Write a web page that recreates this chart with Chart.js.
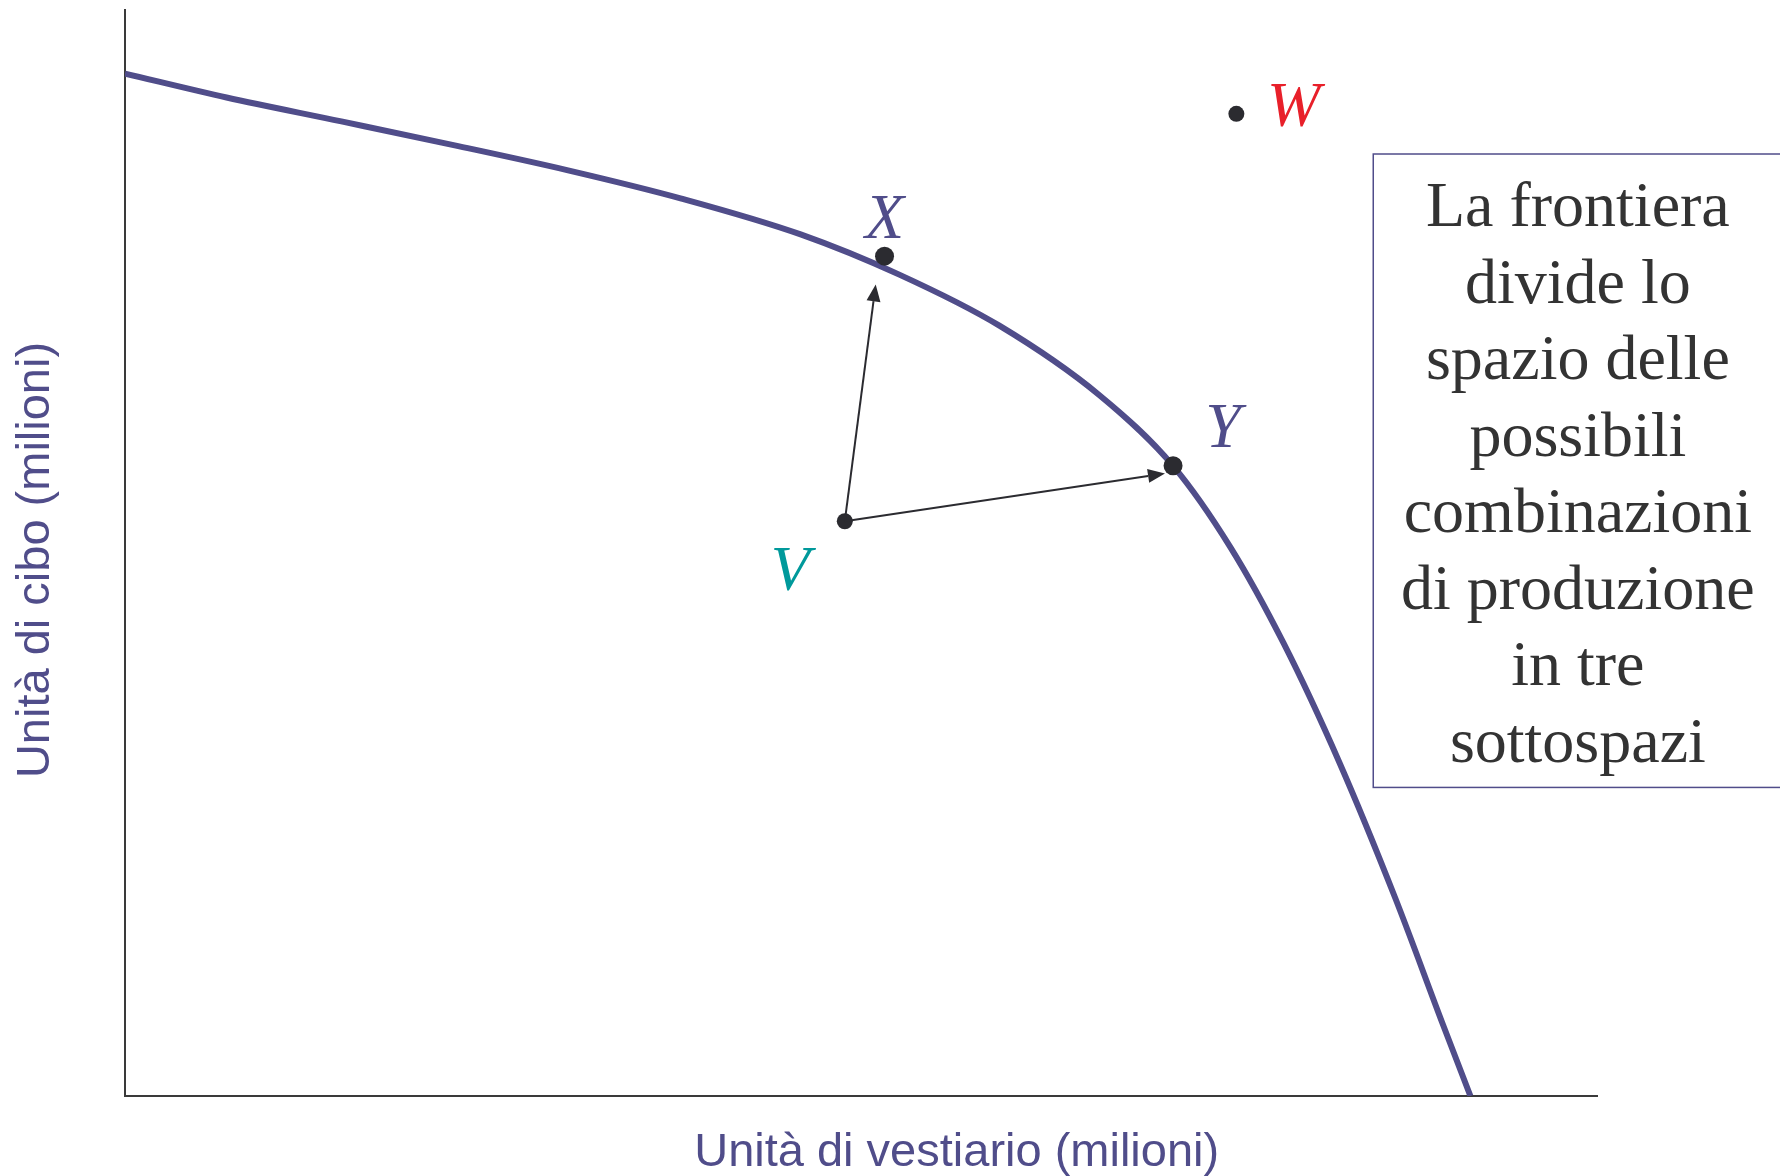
<!DOCTYPE html>
<html lang="it">
<head>
<meta charset="UTF-8">
<title>Frontiera delle possibilità di produzione</title>
<script src="https://cdn.jsdelivr.net/npm/chart.js"></script>
<style>
  html, body { margin: 0; padding: 0; background: #fff; }
  .wrap { width: 1780px; height: 1176px; position: relative; }
</style>
</head>
<body>
<div class="wrap"><canvas id="ppf"></canvas></div>
<script>
// frontier curve (units of clothing vs food, arbitrary 0-100 scale)
const frontierX = [0, 6.9, 14.7, 22.4, 30.1, 37.8, 45.9, 52.6, 59.4, 66.2, 71.2, 75.1, 78.7, 82.5, 86.3, 89.5, 91.4];
const frontierY = [94.1, 91.9, 89.7, 87.5, 85.2, 82.6, 79.3, 75.6, 70.9, 64.5, 58.0, 50.5, 41.7, 30.7, 18.2, 6.7, 0];

// named points
const pointNames = ['X', 'Y', 'V', 'W'];
const pointX = [51.6, 71.2, 48.9, 75.5];
const pointY = [77.3, 58.0, 52.9, 90.4];
const labelX = [51.6, 74.6, 45.2, 79.4];
const labelY = [80.5, 61.3, 48.1, 90.8];

// arrows start at V and end near X and Y
const arrowTipX = [51.0, 70.65];
const arrowTipY = [74.7, 57.3];

// text box
const boxLines = ['La frontiera', 'divide lo', 'spazio delle', 'possibili',
  'combinazioni', 'di produzione', 'in tre', 'sottospazi'];
const boxLeft = 84.8, boxTop = 86.7, boxBottom = 28.4;
const boxTextX = 98.7, boxFirstLineY = 81.6;

const xTitle = 'Unità di vestiario (milioni)';
const yTitle = 'Unità di cibo (milioni)';
const xTitleAt = 56.5;

const PURPLE = '#504d8a';
const labelColors = [PURPLE, PURPLE, '#00999b', '#e8202a'];

const extras = {
  id: 'extras',
  afterDatasetsDraw(chart) {
    const ctx = chart.ctx;
    const xs = chart.scales.x, ys = chart.scales.y;
    const px = v => xs.getPixelForValue(v);
    const py = v => ys.getPixelForValue(v);
    ctx.save();

    // arrows from V
    const vx = px(pointX[2]), vy = py(pointY[2]);
    ctx.strokeStyle = '#2b2b30';
    ctx.fillStyle = '#2b2b30';
    ctx.lineWidth = 2;
    for (let i = 0; i < arrowTipX.length; i++) {
      const tx = px(arrowTipX[i]), ty = py(arrowTipY[i]);
      const a = Math.atan2(ty - vy, tx - vx);
      const hl = 17, hw = 7;
      const bx = tx - hl * Math.cos(a), by = ty - hl * Math.sin(a);
      ctx.beginPath();
      ctx.moveTo(vx, vy);
      ctx.lineTo(bx, by);
      ctx.stroke();
      ctx.beginPath();
      ctx.moveTo(tx, ty);
      ctx.lineTo(bx + hw * Math.sin(a), by - hw * Math.cos(a));
      ctx.lineTo(bx - hw * Math.sin(a), by + hw * Math.cos(a));
      ctx.closePath();
      ctx.fill();
    }

    // point labels
    ctx.font = 'italic 64px "Liberation Serif", "Times New Roman", serif';
    ctx.textAlign = 'center';
    ctx.textBaseline = 'middle';
    pointNames.forEach((n, i) => {
      ctx.fillStyle = labelColors[i];
      ctx.fillText(n, px(labelX[i]), py(labelY[i]));
    });

    // text box
    const bl = px(boxLeft), bt = py(boxTop), bb = py(boxBottom);
    ctx.strokeStyle = PURPLE;
    ctx.lineWidth = 1.5;
    ctx.strokeRect(bl, bt, chart.width - bl + 10, bb - bt);
    ctx.fillStyle = '#333333';
    ctx.font = '64px "Liberation Serif", "Times New Roman", serif';
    const lh = 76.5;
    boxLines.forEach((t, i) => {
      ctx.fillText(t, px(boxTextX), py(boxFirstLineY) + i * lh);
    });

    // axis titles
    ctx.fillStyle = PURPLE;
    ctx.font = '47px "Liberation Sans", Arial, sans-serif';
    ctx.fillText(xTitle, px(xTitleAt), ys.bottom + 57);
    ctx.translate(36, 560);
    ctx.rotate(-Math.PI / 2);
    ctx.fillText(yTitle, 0, 0);
    ctx.restore();
  }
};

new Chart(document.getElementById('ppf'), {
  type: 'scatter',
  data: {
    datasets: [
      {
        label: 'punti',
        data: pointX.map((x, i) => ({ x, y: pointY[i] })),
        backgroundColor: '#2b2b30',
        borderWidth: 0,
        pointRadius: [9.5, 9.5, 8, 8],
        order: 0
      },
      {
        label: 'frontiera',
        data: frontierX.map((x, i) => ({ x, y: frontierY[i] })),
        showLine: true,
        borderColor: PURPLE,
        borderWidth: 6,
        pointRadius: 0,
        cubicInterpolationMode: 'monotone',
        order: 1
      }
    ]
  },
  options: {
    responsive: true,
    maintainAspectRatio: false,
    animation: false,
    layout: { padding: { left: 117, right: 183, top: 4, bottom: 72 } },
    plugins: { legend: { display: false }, tooltip: { enabled: false } },
    scales: {
      x: {
        min: 0, max: 100,
        ticks: { display: false },
        grid: { display: false },
        border: { display: true, color: '#3a3a3a', width: 2 }
      },
      y: {
        min: 0, max: 100,
        ticks: { display: false },
        grid: { display: false },
        border: { display: true, color: '#3a3a3a', width: 2 }
      }
    }
  },
  plugins: [extras]
});
</script>
</body>
</html>
